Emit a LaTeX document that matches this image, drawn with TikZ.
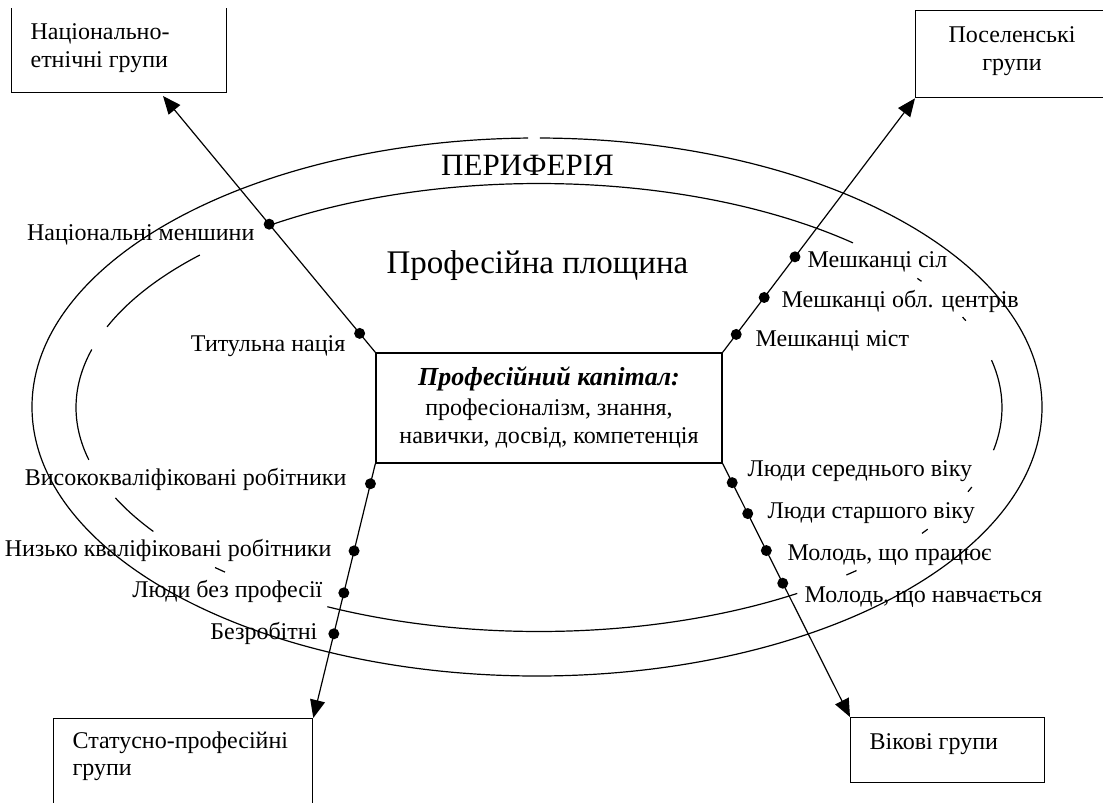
\documentclass[tikz,border=0pt]{standalone}
\usepackage{fontspec}
\setmainfont{Liberation Serif}
\usetikzlibrary{arrows.meta}
\newcommand\innerseg[2]{\draw (539,407.5) ++(#1:463pt and 224pt) arc[start angle=#1, end angle=#2, x radius=463pt, y radius=224pt];}
\begin{document}
\begin{tikzpicture}[x=1pt,y=-1pt, line width=1.2pt,
  lbl/.style={font=\fontsize{24}{28}\selectfont, inner sep=0pt},
  grp/.style={draw, line width=1.3pt, inner sep=0pt},
  dot/.style={circle, fill, inner sep=0pt, minimum size=11pt},
  conn/.style={line width=1.2pt, -{Triangle[length=18pt,width=15pt]}},
]
\useasboundingbox (0,0) rectangle (1103,803);
\clip (0,8) rectangle (1103,803);
% inner (broken) ellipse
\innerseg{47.3}{125.7}
\innerseg{137.1}{158.9}
\innerseg{165}{193.5}
\innerseg{203.8}{213.6}
\innerseg{225.6}{227.3}
\innerseg{242.8}{303.9}
\innerseg{311.6}{313.3}
\innerseg{325.8}{327.1}
\innerseg{337.9}{339.2}
\innerseg{-11}{12.2}
\innerseg{22.8}{23.8}
\innerseg{34.3}{35.2}
% outer ellipse
\draw (537,407) ++(91:505pt and 269pt) arc[start angle=91, end angle=449.66, x radius=505pt, y radius=269pt];
% group boxes
\node[grp, minimum width=215pt, minimum height=130pt, anchor=south west] (ethbox) at (11,93) {};
\node[grp, minimum width=250pt, minimum height=87pt, anchor=north west] (setbox) at (915,10) {};
\node[grp, minimum width=259pt, minimum height=120pt, anchor=north west] (statbox) at (53,718) {};
\node[grp, minimum width=194pt, minimum height=65pt, anchor=north west] (agebox) at (850,717) {};
\node[lbl, anchor=base west] (eth1) at (30,39) {Національно-};
\node[lbl, anchor=base west] (eth2) at (30,67) {етнічні групи};
\node[lbl, anchor=base] (set1) at (1012,42) {Поселенські};
\node[lbl, anchor=base] (set2) at (1012,70) {групи};
\node[lbl, anchor=base west] (stat1) at (72,748) {Статусно-професійні};
\node[lbl, anchor=base west] (stat2) at (72,775) {групи};
\node[lbl, anchor=base west] (age1) at (869,749) {Вікові групи};
% titles
\node[font=\fontsize{31}{36}\selectfont, inner sep=0pt, anchor=base] (per) at (527.5,175) {ПЕРИФЕРІЯ};
\node[font=\fontsize{33}{38}\selectfont, inner sep=0pt, anchor=base] (pl) at (537.5,273) {Професійна площина};
% central box
\node[draw, line width=1.3pt, minimum width=346pt, minimum height=110pt, inner sep=0pt] (cap) at (549,408) {};
\node[font=\fontsize{26}{30}\selectfont, inner sep=0pt, anchor=base] (c1) at (549,385) {\textbf{\textit{Професійний капітал:}}};
\node[lbl, anchor=base] (c2) at (549,415) {професіоналізм, знання,};
\node[lbl, anchor=base] (c3) at (549,443) {навички, досвід, компетенція};
% labels
\node[lbl, anchor=base east] (l1) at (255,240) {Національні меншини};
\node[lbl, anchor=base east] (l2) at (346,351) {Титульна нація};
\node[lbl, anchor=base east] (l3) at (347,485) {Висококваліфіковані робітники};
\node[lbl, anchor=base east] (l4) at (332,556) {Низько кваліфіковані робітники};
\node[lbl, anchor=base east] (l5) at (323,597) {Люди без професії};
\node[lbl, anchor=base east] (l6) at (318,639) {Безробітні};
\node[lbl, anchor=base west] (r1) at (807,267) {Мешканці сіл};
\node[lbl, anchor=base west] (r2) at (781,307) {Мешканці обл. центрів};
\node[lbl, anchor=base west] (r3) at (755,346) {Мешканці міст};
\node[lbl, anchor=base west] (r4) at (747,476) {Люди середнього віку};
\node[lbl, anchor=base west] (r5) at (767,518) {Люди старшого віку};
\node[lbl, anchor=base west] (r6) at (787,560) {Молодь, що працює};
\node[lbl, anchor=base west] (r7) at (804,602) {Молодь, що навчається};
% connectors
\coordinate (tipTL) at (163,96);
\draw[conn] (cap.north west) -- node[pos=0.074, dot] (d1) {} node[pos=0.5, dot] (d2) {} (tipTL);
\draw[conn] (cap.north east) -- node[pos=0.0706, dot] (d3) {} node[pos=0.216, dot] (d4) {} node[pos=0.376, dot] (d5) {} (setbox.south west);
\draw[conn] (cap.south west) -- node[pos=0.079, dot] (d6) {} node[pos=0.343, dot] (d7) {} node[pos=0.508, dot] (d8) {} node[pos=0.669, dot] (d9) {} (statbox.north east);
\draw[conn] (cap.south east) -- node[pos=0.075, dot] (d10) {} node[pos=0.197, dot] (d11) {} node[pos=0.343, dot] (d12) {} node[pos=0.472, dot] (d13) {} (agebox.north west);
\end{tikzpicture}
\end{document}
